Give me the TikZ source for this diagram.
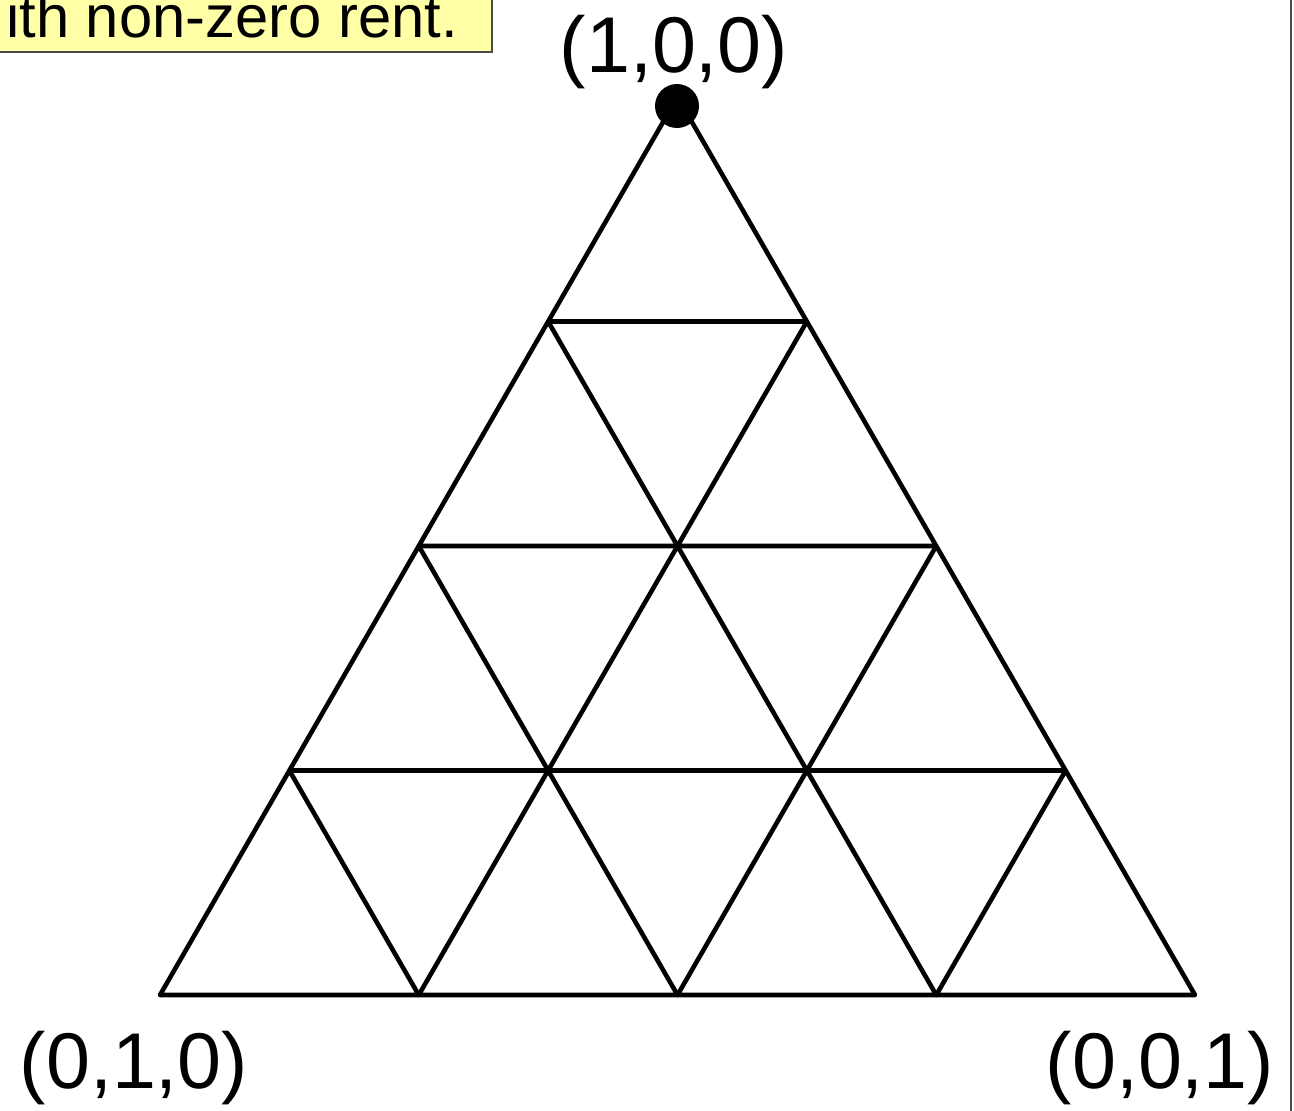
\documentclass[tikz,border=0pt]{standalone}
\usepackage{fontspec}
\setmainfont{Liberation Sans}
\usetikzlibrary{positioning}
\definecolor{NoteFill}{HTML}{FFFFA8}
\definecolor{NoteBorder}{HTML}{4A4A4A}
\tikzset{grid/.style={line width=2.6pt,line join=round},
 vlabel/.style={font=\fontsize{45}{54}\selectfont,anchor=base,inner sep=0pt},
 notetext/.style={font=\fontsize{34}{40}\selectfont,anchor=base west,inner sep=0pt},
 topdot/.style={circle,fill=black,minimum size=0.88cm,inner sep=0pt}}
\begin{document}
\begin{tikzpicture}[x=0.02cm,y=-0.02cm]
\useasboundingbox (0,0) rectangle (1294,1110);
% note box, cut at the page edge
\draw[NoteBorder,fill=NoteFill,line width=1pt] (-20,-20) rectangle (492,52);
\node[notetext] (note) at (6,37) {ith non-zero rent.};
\draw[NoteBorder,line width=1.4pt] (1291,-5) -- (1291,1115);
% grid points
\foreach \i in {0,...,4}
 \foreach \j in {0,...,\i}
  \coordinate (p-\i-\j) at ({677.5+(\j-\i/2)*258.75},{97+\i*224.5});
\foreach \i in {0,...,3}
 \foreach \j in {0,...,\i}{
  \pgfmathtruncatemacro{\k}{\i+1}
  \pgfmathtruncatemacro{\m}{\j+1}
  \draw[grid] (p-\i-\j) -- (p-\k-\j) -- (p-\k-\m) -- cycle;}
\node[topdot] (apex) at (677,106) {};
\node[vlabel] (lab-a) at (674,72) {(1,0,0)};
\node[vlabel] (lab-b) at (134,1088) {(0,1,0)};
\node[vlabel] (lab-c) at (1160,1088) {(0,0,1)};
\end{tikzpicture}
\end{document}
